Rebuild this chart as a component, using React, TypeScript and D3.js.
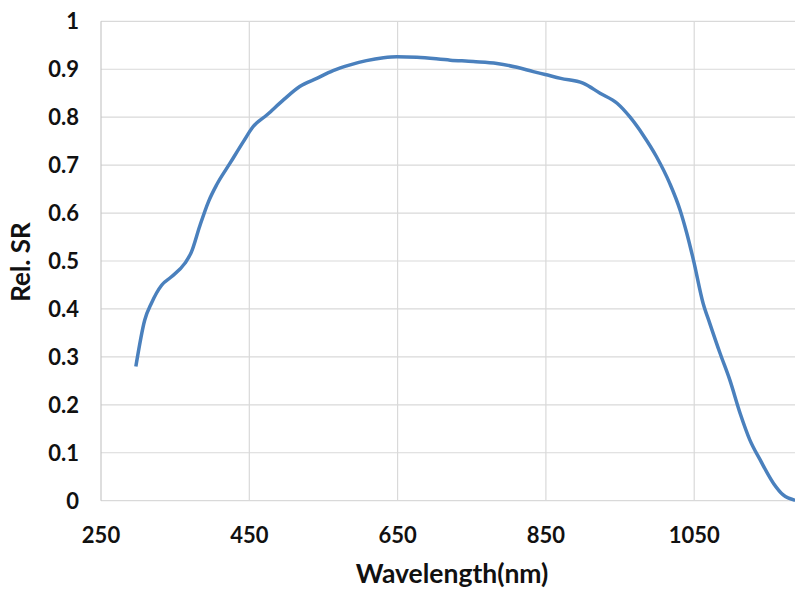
import { useEffect, useRef } from 'react';
import * as d3 from 'd3';

// wavelength (nm) and relative spectral response
const wavelengths = [
  297, 309, 318, 332, 345, 363, 372, 383, 395, 406, 424, 442, 455, 474, 496,
  518, 541, 563, 586, 608, 631, 649, 676, 721, 752, 784, 811, 833, 849, 870,
  900, 923, 946, 963, 981, 999, 1017, 1031, 1040, 1049, 1062, 1071, 1085,
  1098, 1112, 1125, 1139, 1157, 1170, 1186,
];
const relSR = [
  0.28, 0.377, 0.412, 0.45, 0.467, 0.495, 0.519, 0.572, 0.624, 0.659, 0.704,
  0.749, 0.78, 0.805, 0.836, 0.864, 0.881, 0.897, 0.909, 0.918, 0.924, 0.926,
  0.925, 0.919, 0.916, 0.912, 0.904, 0.895, 0.889, 0.881, 0.871, 0.85, 0.829,
  0.801, 0.763, 0.718, 0.662, 0.606, 0.558, 0.502, 0.412, 0.37, 0.307, 0.252,
  0.182, 0.127, 0.085, 0.036, 0.012, 0.001,
];
const xTicks = [250, 450, 650, 850, 1050];
const yTicks = [0, 0.1, 0.2, 0.3, 0.4, 0.5, 0.6, 0.7, 0.8, 0.9, 1];

const width = 795;
const height = 593;
const font = 'Lato, "Open Sans", sans-serif';

const App = () => {
  const svgRef = useRef<SVGSVGElement>(null);

  useEffect(() => {
    if (!svgRef.current) return;
    const svg = d3.select(svgRef.current);
    svg.selectAll('*').remove();

    // plot area runs past the right edge of the picture (cropped)
    const x = d3.scaleLinear().domain([250, 1250]).range([101, 842.5]);
    const y = d3.scaleLinear().domain([0, 1]).range([500.7, 21.3]);

    svg.append('rect')
      .attr('width', width)
      .attr('height', height)
      .attr('fill', '#fff');

    // gridlines
    svg.append('g')
      .selectAll('line')
      .data(yTicks)
      .join('line')
        .attr('x1', x(250))
        .attr('x2', width)
        .attr('y1', d => y(d))
        .attr('y2', d => y(d))
        .attr('stroke', '#d9d9d9')
        .attr('stroke-width', 1.2);

    svg.append('g')
      .selectAll('line')
      .data(xTicks)
      .join('line')
        .attr('x1', d => x(d))
        .attr('x2', d => x(d))
        .attr('y1', y(0))
        .attr('y2', y(1))
        .attr('stroke', d => (d === 250 ? '#c8c8c8' : '#d9d9d9'))
        .attr('stroke-width', 1.2);

    // tick labels
    svg.append('g')
      .selectAll('text')
      .data(yTicks)
      .join('text')
        .attr('x', 79)
        .attr('y', d => y(d))
        .attr('dy', '0.36em')
        .attr('text-anchor', 'end')
        .attr('font-family', font)
        .attr('font-weight', 700)
        .attr('font-size', 22)
        .attr('fill', '#111')
        .text(d => String(d));

    svg.append('g')
      .selectAll('text')
      .data(xTicks)
      .join('text')
        .attr('x', d => x(d))
        .attr('y', 543)
        .attr('text-anchor', 'middle')
        .attr('font-family', font)
        .attr('font-weight', 700)
        .attr('font-size', 22)
        .attr('fill', '#111')
        .text(d => String(d));

    // axis titles
    svg.append('text')
      .attr('x', 452)
      .attr('y', 583)
      .attr('text-anchor', 'middle')
      .attr('font-family', font)
      .attr('font-weight', 700)
      .attr('font-size', 26.5)
      .attr('fill', '#111')
      .text('Wavelength(nm)');

    svg.append('text')
      .attr('transform', 'translate(30,262) rotate(-90)')
      .attr('text-anchor', 'middle')
      .attr('font-family', font)
      .attr('font-weight', 700)
      .attr('font-size', 26)
      .attr('fill', '#111')
      .text('Rel. SR');

    // response curve
    const points = wavelengths.map((w, i) => [w, relSR[i]] as [number, number]);
    const line = d3.line<[number, number]>()
      .x(d => x(d[0]))
      .y(d => y(d[1]))
      .curve(d3.curveMonotoneX);

    svg.append('path')
      .datum(points)
      .attr('d', line)
      .attr('fill', 'none')
      .attr('stroke', '#4a80bd')
      .attr('stroke-width', 3.5)
      .attr('stroke-linejoin', 'round');
  }, []);

  return (
    <div style={{ position: 'fixed', left: 0, top: 0 }}>
      <svg ref={svgRef} width={width} height={height} style={{ display: 'block' }} />
    </div>
  );
};

export default App;
